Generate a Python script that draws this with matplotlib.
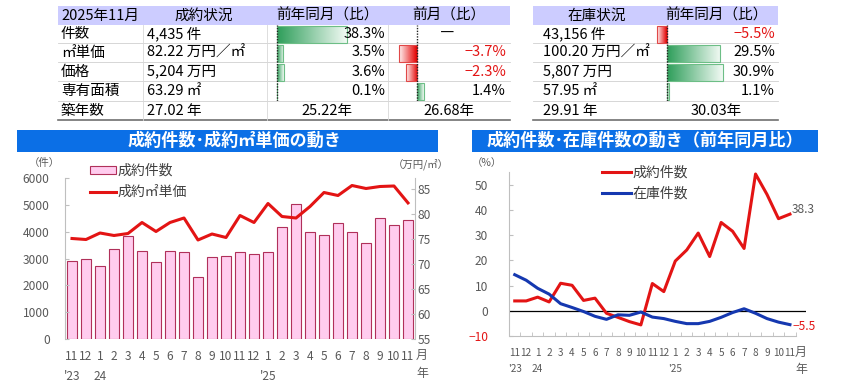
import numpy as np
import matplotlib
matplotlib.use("Agg")
import matplotlib.pyplot as plt
from matplotlib.colors import LinearSegmentedColormap
from matplotlib.lines import Line2D
from matplotlib.patches import Rectangle, Patch

plt.rcParams["font.family"] = ["Noto Sans CJK JP", "DejaVu Sans"]

W, H = 841, 384

# ---- data -------------------------------------------------------------
months = ["11", "12", "1", "2", "3", "4", "5", "6", "7", "8", "9", "10",
          "11", "12", "1", "2", "3", "4", "5", "6", "7", "8", "9", "10", "11"]
year_marks = {0: "'23", 2: "24", 14: "'25"}

deal_counts = [2925, 2975, 2715, 3370, 3830, 3285, 2865, 3285, 3225, 2305,
               3060, 3110, 3235, 3160, 3250, 4170, 5015, 3970, 3870, 4320,
               3985, 3575, 4505, 4255, 4435]
deal_unit_price = [75.1, 74.9, 76.2, 75.7, 76.1, 78.3, 76.5, 78.3, 79.2, 74.8,
                   76.0, 75.3, 79.7, 78.3, 82.1, 79.5, 79.2, 81.5, 84.3, 83.7,
                   85.7, 85.1, 85.5, 85.6, 82.22]

deal_yoy = [3.9, 3.9, 5.4, 3.5, 10.9, 10.1, 4.1, 5.0, -1.0, -2.6, -4.3, -5.6,
            10.8, 7.6, 19.7, 24.1, 30.8, 21.5, 35.0, 31.5, 24.7, 54.2, 46.1,
            36.5, 38.3]
stock_yoy = [14.3, 12.1, 8.9, 6.6, 2.8, 1.3, -0.3, -2.2, -3.4, -1.6, -1.8,
             -0.5, -2.5, -3.1, -4.2, -5.1, -5.1, -4.2, -2.6, -0.7, 0.8, -1.0,
             -3.1, -4.5, -5.5]

# summary tables
row_labels = ["件数", "㎡単価", "価格", "専有面積", "築年数"]
deal_status = ["4,435 件", "82.22 万円／㎡", "5,204 万円", "63.29 ㎡", "27.02 年"]
deal_vs_year = [38.3, 3.5, 3.6, 0.1]
deal_vs_month = [np.nan, -3.7, -2.3, 1.4]
deal_age_year, deal_age_month = "25.22年", "26.68年"
stock_status = ["43,156 件", "100.20 万円／㎡", "5,807 万円", "57.95 ㎡", "29.91 年"]
stock_vs_year = [-5.5, 29.5, 30.9, 1.1]
stock_age_year = "30.03年"

# ---- colours ----------------------------------------------------------
BLUE_BAR = "#0b6fe6"
HEAD_BG = "#CCCCFF"
PINK = "#FFCCEE"
PINK_EDGE = "#B0305A"
RED = "#E31414"
NAVY = "#1538B0"
GREY_TXT = "#595959"
LEG_TXT = "#404040"
SPINE = "#BFBFBF"

green_cmap = LinearSegmentedColormap.from_list("g", ["#2E9E5A", "#F2FAF4"])
red_cmap = LinearSegmentedColormap.from_list("r", ["#E40000", "#FFF2F2"])


def px_rect(x0, y0, x1, y1):
    return [x0 / W, 1 - y1 / H, (x1 - x0) / W, (y1 - y0) / H]


def pixel_axes():
    ax = fig.add_axes([0, 0, 1, 1])
    ax.set_xlim(0, W)
    ax.set_ylim(H, 0)
    ax.axis("off")
    return ax


fig = plt.figure(figsize=(W / 100, H / 100), dpi=100)

# background layer: table frames and title bands
axbg = pixel_axes()
row_c = [34, 52.5, 71.5, 91, 110.5]
row_lines = [43, 62, 81, 101]
TFS = 10.5

axbg.add_patch(Rectangle((58, 6), 452, 19, color=HEAD_BG, lw=0))
axbg.add_patch(Rectangle((533, 6), 245, 19, color=HEAD_BG, lw=0))
for y in row_lines:
    axbg.plot([58, 510], [y, y], color="#D0D0D0", lw=0.6)
    axbg.plot([533, 778], [y, y], color="#D0D0D0", lw=0.6)
axbg.plot([58, 510], [120, 120], color="#707070", lw=1.2)
axbg.plot([533, 778], [120, 120], color="#707070", lw=1.2)
for xv in [143, 267, 388]:
    axbg.plot([xv, xv], [25, 120], color="#D8D8D8", lw=0.6)

axbg.add_patch(Rectangle((17, 130), 421, 22, color=BLUE_BAR, lw=0))
axbg.add_patch(Rectangle((472, 130), 346, 22, color=BLUE_BAR, lw=0))
axbg.text(235, 141, "成約件数･成約㎡単価の動き", color="white", fontsize=12.3,
          fontweight="bold", ha="center", va="center")
axbg.text(645, 141, "成約件数･在庫件数の動き（前年同月比）", color="white",
          fontsize=12.3, fontweight="bold", ha="center", va="center")


def data_bars(x0, x1, zero, scale, values):
    """Small gradient data bars inside a table column."""
    ax = fig.add_axes(px_rect(x0, 25, x1, 101))
    ax.axis("off")
    for i, v in enumerate(values):
        if np.isnan(v) or v == 0:
            continue
        if v > 0:
            cmap, edge = green_cmap, "#6DBE86"
            grad = np.linspace(0, 1, 128).reshape(1, -1)
        else:
            cmap, edge = red_cmap, "#E04848"
            grad = np.linspace(1, 0, 128).reshape(1, -1)
        ax.imshow(grad, cmap=cmap, extent=(min(0, v), max(0, v), i + 0.44, i - 0.44),
                  aspect="auto", interpolation="bilinear", vmin=0, vmax=1)
        ax.barh(i, v, height=0.88, facecolor="none", edgecolor=edge, lw=0.8)
    ax.axvline(0, color="#222222", lw=1.0, ls=(0, (1, 1)))
    ax.set_xlim((x0 - zero) / scale, (x1 - zero) / scale)
    ax.set_ylim(len(values) - 0.5, -0.5)
    return ax


data_bars(267, 388, 277, 70 / 38.3, deal_vs_year)
data_bars(388, 510, 417, 18 / 3.7, deal_vs_month)
data_bars(653, 778, 667, 56 / 30.9, stock_vs_year)

# text layer on top of the data bars
axt = pixel_axes()
axt.text(61, 15.5, "2025年11月", fontsize=TFS, va="center", ha="left")
axt.text(204, 15.5, "成約状況", fontsize=TFS, va="center", ha="center")
axt.text(327, 15.5, "前年同月（比）", fontsize=TFS, va="center", ha="center")
axt.text(449, 15.5, "前月（比）", fontsize=TFS, va="center", ha="center")
axt.text(597, 15.5, "在庫状況", fontsize=TFS, va="center", ha="center")
axt.text(716, 15.5, "前年同月（比）", fontsize=TFS, va="center", ha="center")

for i, yc in enumerate(row_c):
    axt.text(61, yc, row_labels[i], fontsize=TFS, va="center")
    axt.text(147, yc, deal_status[i], fontsize=TFS, va="center")
    axt.text(543, yc, stock_status[i], fontsize=TFS, va="center")


def fmt(v):
    return f"{v:.1f}%".replace("-", "−")


for i in range(4):
    axt.text(385, row_c[i], fmt(deal_vs_year[i]), fontsize=TFS, va="center",
             ha="right", color=RED if deal_vs_year[i] < 0 else "black")
    if np.isnan(deal_vs_month[i]):
        axt.text(447, row_c[i], "―", fontsize=TFS, va="center", ha="center")
    else:
        axt.text(506, row_c[i], fmt(deal_vs_month[i]), fontsize=TFS,
                 va="center", ha="right",
                 color=RED if deal_vs_month[i] < 0 else "black")
    axt.text(775, row_c[i], fmt(stock_vs_year[i]), fontsize=TFS, va="center",
             ha="right", color=RED if stock_vs_year[i] < 0 else "black")
axt.text(327, row_c[4], deal_age_year, fontsize=TFS, va="center", ha="center")
axt.text(449, row_c[4], deal_age_month, fontsize=TFS, va="center", ha="center")
axt.text(716, row_c[4], stock_age_year, fontsize=TFS, va="center", ha="center")

x = np.arange(len(months))
TICK_FS = 8.6
tick_labels = [m + ("\n" + year_marks[i] if i in year_marks else "")
               for i, m in enumerate(months)]

# ---- left chart: deal counts + unit price ------------------------------
ax1 = fig.add_axes(px_rect(65, 178, 415, 339))
ax1.bar(x, deal_counts, width=0.66, color=PINK, edgecolor=PINK_EDGE, lw=0.8)
ax1.set_xlim(-0.5, len(months) - 0.5)
ax1.set_ylim(0, 6000)
ax1.set_yticks(range(0, 6001, 1000))
ax1.set_xticks(x)
ax1.set_xticklabels(tick_labels)
for lbl in ax1.get_xticklabels():
    lbl.set_linespacing(1.65)
    lbl.set_verticalalignment("top")
ax1.tick_params(axis="x", length=0, pad=8, labelsize=TICK_FS, colors=GREY_TXT)
ax1.tick_params(axis="y", direction="in", length=3, color=SPINE, pad=11,
                labelsize=TICK_FS, labelcolor=GREY_TXT)
for s in ["top", "right", "bottom"]:
    ax1.spines[s].set_visible(False)
ax1.spines["left"].set_color(SPINE)

ax1r = ax1.twinx()
ax1r.plot(x, deal_unit_price, color=RED, lw=2.2)
ax1r.set_ylim(55, 87.2)
ax1r.set_yticks(range(55, 86, 5))
ax1r.tick_params(axis="y", direction="in", length=3, color=SPINE, pad=2,
                 labelsize=TICK_FS, labelcolor=GREY_TXT)
for s in ["top", "left", "bottom"]:
    ax1r.spines[s].set_visible(False)
ax1r.spines["right"].set_color(SPINE)

ax1r.legend([Patch(facecolor=PINK, edgecolor=PINK_EDGE, lw=0.8),
             Line2D([], [], color=RED, lw=2.2)],
            ["成約件数", "成約㎡単価"], loc="upper left",
            bbox_to_anchor=(90 / W, 1 - 164 / H), bbox_transform=fig.transFigure,
            frameon=False, fontsize=10, handlelength=1.9, handleheight=0.45,
            handletextpad=0.1, labelspacing=0.5, borderpad=0,
            borderaxespad=0, labelcolor=LEG_TXT)

axt.text(44, 163, "（件）", fontsize=7.5, color=GREY_TXT, ha="center", va="center")
axt.text(421, 164, "（万円/㎡）", fontsize=7.5, color=GREY_TXT, ha="center",
         va="center")
axt.text(416, 355, "月", fontsize=TICK_FS, color=GREY_TXT, ha="left", va="center")
axt.text(416, 373, "年", fontsize=TICK_FS, color=GREY_TXT, ha="left", va="center")

# ---- right chart: year-on-year change -----------------------------------
ax2 = fig.add_axes(px_rect(509, 172, 806, 336))
ax2.axhline(0, color="black", lw=0.9)
ax2.plot(x, deal_yoy, color=RED, lw=2.2)
ax2.plot(x, stock_yoy, color=NAVY, lw=2.2)
ax2.set_xlim(-0.43, 25.4)
ax2.set_ylim(-10, 55)
ax2.set_yticks(range(-10, 51, 10))
ax2.set_xticks(x)
ax2.set_xticklabels(tick_labels)
for lbl in ax2.get_xticklabels():
    lbl.set_linespacing(1.7)
    lbl.set_verticalalignment("top")
ax2.set_xticks(np.arange(-0.5, len(months), 1), minor=True)
ax2.tick_params(axis="x", which="major", length=0, pad=9, labelsize=7.2,
                colors=GREY_TXT)
ax2.tick_params(axis="x", which="minor", direction="in", length=3, color=SPINE)
ax2.tick_params(axis="y", direction="in", length=3, color=SPINE, pad=15,
                labelsize=TICK_FS, labelcolor=GREY_TXT)
ax2.get_yticklabels()[0].set_color(RED)
for s in ["top", "right"]:
    ax2.spines[s].set_visible(False)
ax2.spines["left"].set_color(SPINE)
ax2.spines["bottom"].set_color(SPINE)
ax2.spines["bottom"].set_bounds(-0.43, len(months) - 0.5)

ax2.annotate(f"{deal_yoy[-1]:.1f}", xy=(x[-1], deal_yoy[-1]), xytext=(1.5, 3.5),
             textcoords="offset points", fontsize=TICK_FS, color=GREY_TXT,
             ha="left", va="center")
ax2.annotate(f"{stock_yoy[-1]:.1f}".replace("-", "−"), xy=(x[-1], stock_yoy[-1]),
             xytext=(2, -1.5), textcoords="offset points", fontsize=TICK_FS,
             color=RED, ha="left", va="center")

ax2.legend([Line2D([], [], color=RED, lw=2.2), Line2D([], [], color=NAVY, lw=2.2)],
           ["成約件数", "在庫件数"], loc="upper left",
           bbox_to_anchor=(602 / W, 1 - 166 / H), bbox_transform=fig.transFigure,
           frameon=False, fontsize=10, handlelength=2.1, handletextpad=0.1,
           labelspacing=0.5, borderpad=0, borderaxespad=0, labelcolor=LEG_TXT)

axt.text(487, 163, "（%）", fontsize=7.5, color=GREY_TXT, ha="center", va="center")
axt.text(795, 352, "月", fontsize=TICK_FS, color=GREY_TXT, ha="left", va="center")
axt.text(795, 370, "年", fontsize=TICK_FS, color=GREY_TXT, ha="left", va="center")

fig.savefig("out.png", dpi=100)
